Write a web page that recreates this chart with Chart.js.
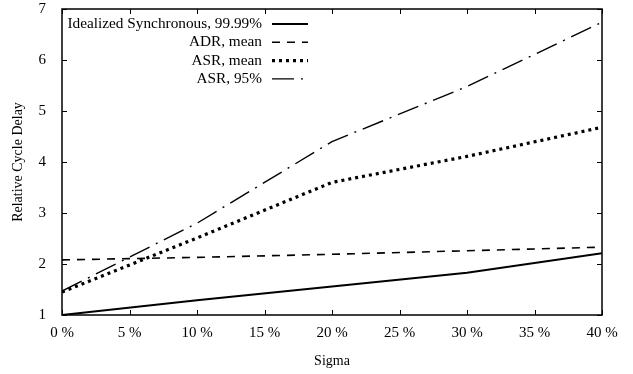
<!DOCTYPE html>
<html lang="en">
<head>
    <meta charset="UTF-8">
    <title>Relative Cycle Delay vs Sigma</title>
    <script src="https://cdn.jsdelivr.net/npm/chart.js"></script>
    <style>
        html, body { margin: 0; padding: 0; background: #fff; }
        #wrap { width: 633px; height: 374px; }
    </style>
</head>
<body>
    <div id="wrap"><canvas id="delayChart"></canvas></div>

    <script>
        // Data
        var sigma = [0, 10, 20, 30, 40];
        var idealSync = [1.0, 1.29, 1.56, 1.83, 2.21];
        var adrMean = [2.08, 2.13, 2.19, 2.26, 2.33];
        var asrMean = [1.45, 2.51, 3.6, 4.11, 4.68];
        var asr95 = [1.47, 2.8, 4.4, 5.48, 6.74];
        var seriesNames = ['Idealized Synchronous, 99.99%', 'ADR, mean', 'ASR, mean', 'ASR, 95%'];
        var xTicks = [0, 5, 10, 15, 20, 25, 30, 35, 40];
        var yTicks = [1, 2, 3, 4, 5, 6, 7];

        var FONT = 'Liberation Serif';

        function pts(ys) {
            return sigma.map((s, i) => ({x: s, y: ys[i]}));
        }

        var styles = [
            {width: 2, dash: []},
            {width: 1.6, dash: [8, 7]},
            {width: 3.2, dash: [3, 4]},
            {width: 1.4, dash: [22, 7, 2, 7]}
        ];

        var datasets = [idealSync, adrMean, asrMean, asr95].map((ys, i) => ({
            label: seriesNames[i],
            data: pts(ys),
            borderColor: '#000',
            borderWidth: styles[i].width,
            borderDash: styles[i].dash,
            pointRadius: 0,
            tension: 0,
            fill: false
        }));

        // gnuplot-style frame with inward ticks
        var framePlugin = {
            id: 'frame',
            afterDraw(chart) {
                var ctx = chart.ctx, a = chart.chartArea;
                var xs = chart.scales.x, ys = chart.scales.y;
                ctx.save();
                ctx.strokeStyle = '#000';
                ctx.lineWidth = 1.5;
                ctx.setLineDash([]);
                ctx.strokeRect(a.left, a.top, a.right - a.left, a.bottom - a.top);
                ctx.lineWidth = 1;
                var t = 5;
                xTicks.forEach(v => {
                    var px = Math.round(xs.getPixelForValue(v)) + 0.5;
                    ctx.beginPath();
                    ctx.moveTo(px, a.bottom); ctx.lineTo(px, a.bottom - t);
                    ctx.moveTo(px, a.top); ctx.lineTo(px, a.top + t);
                    ctx.stroke();
                });
                yTicks.forEach(v => {
                    var py = Math.round(ys.getPixelForValue(v)) + 0.5;
                    ctx.beginPath();
                    ctx.moveTo(a.left, py); ctx.lineTo(a.left + t, py);
                    ctx.moveTo(a.right, py); ctx.lineTo(a.right - t, py);
                    ctx.stroke();
                });
                ctx.restore();
            }
        };

        // key in the top-left corner, text right aligned then line sample
        var keyPlugin = {
            id: 'key',
            afterDraw(chart) {
                var ctx = chart.ctx, a = chart.chartArea;
                ctx.save();
                ctx.font = '15.3px "' + FONT + '"';
                ctx.fillStyle = '#000';
                ctx.textAlign = 'right';
                ctx.textBaseline = 'middle';
                var textRight = a.left + 200;
                chart.data.datasets.forEach((ds, i) => {
                    var y = a.top + 15 + i * 18.3;
                    ctx.fillText(ds.label, textRight, y);
                    ctx.strokeStyle = '#000';
                    ctx.lineWidth = ds.borderWidth;
                    ctx.setLineDash(ds.borderDash);
                    ctx.beginPath();
                    ctx.moveTo(textRight + 10, y);
                    ctx.lineTo(textRight + 46, y);
                    ctx.stroke();
                });
                ctx.restore();
            }
        };

        var ctx = document.getElementById('delayChart').getContext('2d');
        new Chart(ctx, {
            type: 'line',
            data: { datasets: datasets },
            options: {
                responsive: true,
                maintainAspectRatio: false,
                animation: false,
                layout: { padding: { left: 0, right: 31, top: 0, bottom: 0 } },
                scales: {
                    x: {
                        type: 'linear',
                        min: 0, max: 40,
                        afterBuildTicks: s => { s.ticks = xTicks.map(v => ({value: v})); },
                        afterFit: s => { s.height = 59; },
                        grid: { display: false, drawTicks: false },
                        border: { display: false },
                        ticks: {
                            color: '#000',
                            padding: 9,
                            maxRotation: 0,
                            font: { family: FONT, size: 15 },
                            callback: v => v + ' %'
                        },
                        title: {
                            display: true,
                            text: 'Sigma',
                            color: '#000',
                            font: { family: FONT, size: 14 },
                            padding: { top: 10 }
                        }
                    },
                    y: {
                        min: 1, max: 7,
                        afterBuildTicks: s => { s.ticks = yTicks.map(v => ({value: v})); },
                        afterFit: s => { s.width = 62; s.paddingTop = 9; s.paddingBottom = 0; },
                        grid: { display: false, drawTicks: false },
                        border: { display: false },
                        ticks: {
                            color: '#000',
                            padding: 16,
                            font: { family: FONT, size: 15 }
                        },
                        title: {
                            display: true,
                            text: 'Relative Cycle Delay',
                            color: '#000',
                            font: { family: FONT, size: 14 },
                            padding: { top: 10, bottom: 0 }
                        }
                    }
                },
                plugins: {
                    legend: { display: false },
                    tooltip: { enabled: false }
                }
            },
            plugins: [framePlugin, keyPlugin]
        });
    </script>
</body>
</html>
